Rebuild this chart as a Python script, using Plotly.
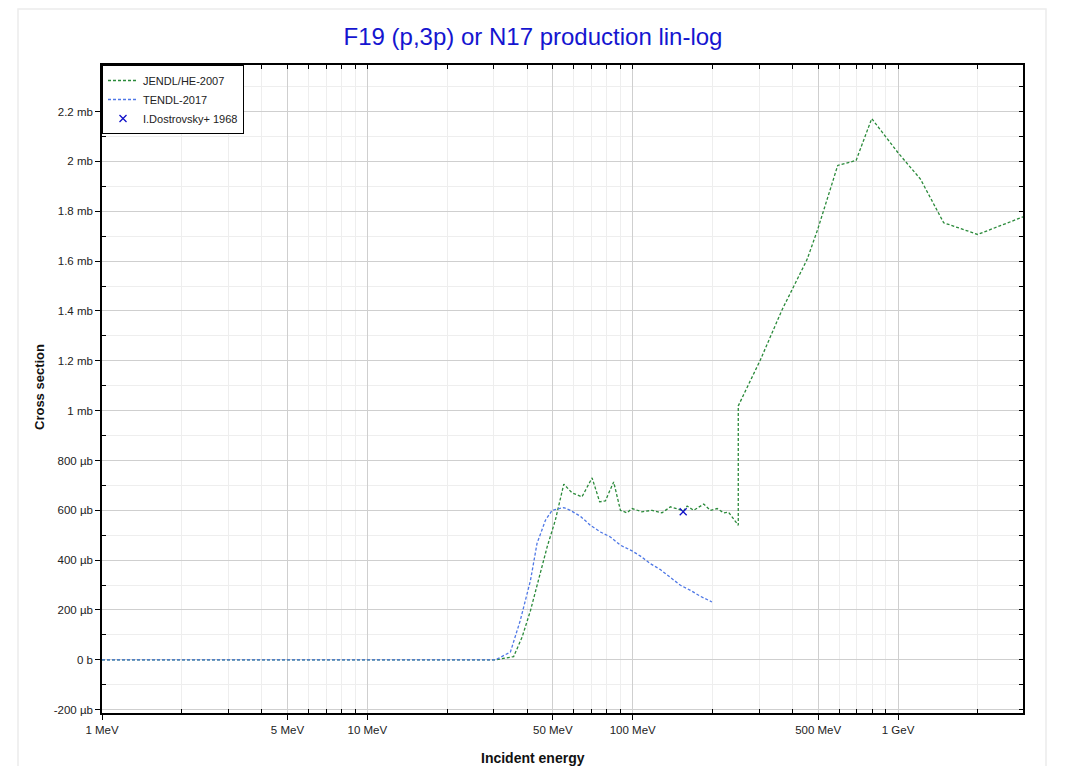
import plotly.graph_objects as go

# ---------------- data (energies in MeV, cross sections in mb) ----------------
jendl_e = [1, 30.4, 35.6, 38.3, 41.2, 44.2, 47.6, 51.1, 55.0, 59.1, 64.4, 70.3, 75.1, 78.9,
           84.8, 89.9, 95.2, 99.5, 108.4, 118.4, 129, 138.7, 147, 155.6, 160.4, 169.8,
           185.2, 196.3, 208, 220.4, 230, 250, 250, 303, 365.7, 416.6, 454, 498, 592.6,
           695, 796, 1000, 1215, 1486, 1997, 3000]
jendl_v = [0, 0, 0.013, 0.091, 0.198, 0.319, 0.453, 0.560, 0.705, 0.670, 0.654, 0.730, 0.634,
           0.638, 0.714, 0.600, 0.590, 0.607, 0.594, 0.600, 0.590, 0.614, 0.607, 0.598, 0.617,
           0.600, 0.625, 0.600, 0.607, 0.590, 0.592, 0.540, 1.019, 1.204, 1.405, 1.526, 1.606,
           1.727, 1.984, 2.004, 2.172, 2.035, 1.929, 1.754, 1.707, 1.780]

tendl_e = [1, 30.4, 34.6, 37.7, 41.2, 43.6, 46.9, 49.7, 55, 58.2, 63.5, 69.3, 75.6, 82.4,
           89.9, 99.5, 107, 116.6, 127.2, 138.7, 151.4, 165, 180, 199]
tendl_v = [0, 0, 0.031, 0.158, 0.319, 0.467, 0.560, 0.600, 0.611, 0.600, 0.576, 0.540, 0.513,
           0.493, 0.460, 0.437, 0.416, 0.386, 0.362, 0.332, 0.299, 0.279, 0.255, 0.232]

exp_e = [155]
exp_v = [0.594]

x_tickvals = [1, 5, 10, 50, 100, 500, 1000]
x_ticktext = ["1 MeV", "5 MeV", "10 MeV", "50 MeV", "100 MeV", "500 MeV", "1 GeV"]
x_minorvals = [2, 3, 4, 6, 7, 8, 9, 20, 30, 40, 60, 70, 80, 90,
               200, 300, 400, 600, 700, 800, 900, 2000]
x_allvals = sorted(x_tickvals + x_minorvals)

y_tickvals = [-0.2, 0, 0.2, 0.4, 0.6, 0.8, 1.0, 1.2, 1.4, 1.6, 1.8, 2.0, 2.2]
y_ticktext = ["-200 µb", "0 b", "200 µb", "400 µb", "600 µb", "800 µb", "1 mb",
              "1.2 mb", "1.4 mb", "1.6 mb", "1.8 mb", "2 mb", "2.2 mb"]
y_minorvals = [-0.1, 0.1, 0.3, 0.5, 0.7, 0.9, 1.1, 1.3, 1.5, 1.7, 1.9, 2.1, 2.3]
y_allvals = sorted(y_tickvals + y_minorvals)

# ---------------- figure ----------------
FONT = "Liberation Sans, Arial, sans-serif"
OFF = 8                      # page body margin
W, H = 1071 - 2 * OFF, 774 - 2 * OFF
L = 102 - OFF
T = 65 - OFF
R = W - (1023 - OFF)
B = H - (713 - OFF)
x_range = [0, 3.471]
y_range = [-0.2134, 2.387]

green = "#2a8a3a"
blue = "#4f78e6"

fig = go.Figure()
fig.add_trace(go.Scatter(x=jendl_e, y=jendl_v, mode="lines", name="JENDL/HE-2007",
                         line=dict(color=green, width=1.3, dash="3px,2px")))
fig.add_trace(go.Scatter(x=tendl_e, y=tendl_v, mode="lines", name="TENDL-2017",
                         line=dict(color=blue, width=1.3, dash="3px,2px")))
fig.add_trace(go.Scatter(x=exp_e, y=exp_v, mode="markers", name="I.Dostrovsky+ 1968",
                         marker=dict(symbol="x-thin", size=7, color="#1010c8",
                                     line=dict(color="#1010c8", width=1.3))))
# empty trace to carry the mirrored tick axes (top / right)
fig.add_trace(go.Scatter(x=[], y=[], xaxis="x2", yaxis="y2", showlegend=False,
                         hoverinfo="skip"))

pw = W - L - R
ph = H - T - B
ybot = H - B  # pixel y of plot bottom (figure coords)

fig.update_layout(
    width=W, height=H,
    margin=dict(l=L, r=R, t=T, b=B),
    paper_bgcolor="white", plot_bgcolor="white",
    font=dict(family=FONT, size=11.5, color="#222222"),
    title=dict(text="F19 (p,3p) or N17 production lin-log", xref="container",
               x=(533 - OFF) / W, xanchor="center", yref="container",
               y=1 - (36.7 - OFF) / H, yanchor="middle",
               font=dict(family=FONT, size=24, color="#1515d0")),
    showlegend=True,
    legend=dict(x=0, y=1, xanchor="left", yanchor="top", bgcolor="white",
                bordercolor="black", borderwidth=1,
                font=dict(family=FONT, size=11, color="#222222"),
                tracegroupgap=0, itemwidth=30),
    xaxis=dict(type="log", range=x_range, tickmode="array", tickvals=x_tickvals,
               ticktext=x_ticktext, ticks="outside", ticklen=5, tickcolor="black",
               showline=True, linecolor="black", linewidth=1.5, mirror=True,
               showgrid=True, gridcolor="#cfcfcf", gridwidth=1, zeroline=False,
               minor=dict(tickmode="array", tickvals=x_minorvals, ticks="inside", ticklen=4,
                          tickcolor="black", showgrid=True, gridcolor="#eeeeee", gridwidth=1)),
    yaxis=dict(range=y_range, tickmode="array", tickvals=y_tickvals, ticktext=y_ticktext,
               ticks="outside", ticklen=5, tickcolor="black",
               showline=True, linecolor="black", linewidth=1.5, mirror=True,
               showgrid=True, gridcolor="#cfcfcf", gridwidth=1, zeroline=False,
               minor=dict(tickmode="array", tickvals=y_minorvals, ticks="inside", ticklen=4,
                          tickcolor="black", showgrid=True, gridcolor="#eeeeee", gridwidth=1)),
    xaxis2=dict(type="log", range=x_range, overlaying="x", side="top", anchor="y2",
                tickmode="array", tickvals=x_allvals, ticks="inside", ticklen=4,
                tickcolor="black", showticklabels=False, showgrid=False, zeroline=False,
                showline=False),
    yaxis2=dict(range=y_range, overlaying="y", side="right", anchor="x2",
                tickmode="array", tickvals=y_allvals, ticks="inside", ticklen=4,
                tickcolor="black", showticklabels=False, showgrid=False, zeroline=False,
                showline=False),
)

# axis titles
fig.add_annotation(text="<b>Incident energy</b>", xref="paper", yref="paper",
                   x=(533 - OFF - L) / pw, y=-((758 - OFF) - ybot) / ph, xanchor="center",
                   yanchor="middle", showarrow=False,
                   font=dict(family=FONT, size=14, color="#111111"))
fig.add_annotation(text="<b>Cross section</b>", xref="paper", yref="paper",
                   x=(39 - OFF - L) / pw, y=(ybot - (387 - OFF)) / ph, xanchor="center",
                   yanchor="middle", textangle=-90, showarrow=False,
                   font=dict(family=FONT, size=13, color="#111111"))

# faint outer frame
fig.add_shape(type="rect", xref="paper", yref="paper",
              x0=(18 - OFF - L) / pw, x1=(1046 - OFF - L) / pw,
              y0=(ybot - (H + 20)) / ph, y1=(ybot - 1) / ph,
              line=dict(color="#ececec", width=1.5), fillcolor="rgba(0,0,0,0)", layer="below")

fig.write_html("out.html")
